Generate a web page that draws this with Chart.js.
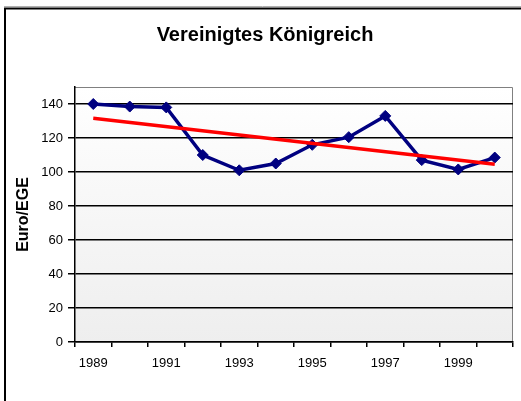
<!DOCTYPE html>
<html>
<head>
<meta charset="utf-8">
<script src="https://cdn.jsdelivr.net/npm/chart.js"></script>
<style>
  html, body { margin: 0; padding: 0; background: #fff; }
  #wrap { width: 521px; height: 401px; position: relative; }
</style>
</head>
<body>
<div id="wrap"><canvas id="chart" width="521" height="401"></canvas></div>
<script>
'use strict';

// Data
var years = ['1989', '1990', '1991', '1992', '1993', '1994', '1995', '1996', '1997', '1998', '1999', '2000'];
var euroPerEge = [140, 138.5, 138, 110, 101, 105, 116, 120.5, 133, 107, 101.5, 108.5];
// Linear trend line, end points
var trendValues = [131.6, null, null, null, null, null, null, null, null, null, null, 104.5];
var yTicks = [0, 20, 40, 60, 80, 100, 120, 140];

var FONT = '"Liberation Sans", Arial, sans-serif';

/**
 * Frame, plot background gradient and plot border.
 */
var decorPlugin = {
  id: 'decor',
  beforeDraw: function(chart) {
    var ctx = chart.ctx;
    var a = chart.chartArea;
    ctx.save();
    // outer frame (top + left visible)
    ctx.strokeStyle = '#b0b0b0';
    ctx.lineWidth = 1;
    ctx.beginPath();
    ctx.moveTo(4, 6.5);
    ctx.lineTo(521, 6.5);
    ctx.stroke();
    ctx.strokeStyle = '#000';
    ctx.lineWidth = 2;
    ctx.beginPath();
    ctx.moveTo(5, 401);
    ctx.lineTo(5, 8.5);
    ctx.lineTo(521, 8.5);
    ctx.stroke();
    // plot background
    var grad = ctx.createLinearGradient(0, a.top, 0, a.bottom);
    grad.addColorStop(0, '#ffffff');
    grad.addColorStop(1, '#eeeeee');
    ctx.fillStyle = grad;
    ctx.fillRect(a.left, a.top, a.right - a.left, a.bottom - a.top);
    // plot border (top + right)
    ctx.strokeStyle = '#808080';
    ctx.lineWidth = 1;
    ctx.beginPath();
    ctx.moveTo(a.left, a.top + 0.5);
    ctx.lineTo(a.right - 0.5, a.top + 0.5);
    ctx.lineTo(a.right - 0.5, a.bottom);
    ctx.stroke();
    ctx.restore();
  }
};

var ctx = document.getElementById('chart').getContext('2d');
new Chart(ctx, {
  type: 'line',
  data: {
    labels: years,
    datasets: [{
      label: 'Trend',
      data: trendValues,
      borderColor: '#ff0000',
      borderWidth: 3.5,
      pointRadius: 0,
      spanGaps: true,
      tension: 0,
      order: 0
    }, {
      label: 'Euro/EGE',
      data: euroPerEge,
      borderColor: '#000080',
      backgroundColor: '#000080',
      borderWidth: 3.5,
      pointStyle: 'rectRot',
      pointRadius: 5.5,
      pointBorderWidth: 1,
      tension: 0,
      order: 1
    }]
  },
  options: {
    responsive: false,
    animation: false,
    events: [],
    layout: {
      padding: { top: 23, left: 17, right: 8, bottom: 29 }
    },
    plugins: {
      legend: { display: false },
      tooltip: { enabled: false },
      title: {
        display: true,
        text: 'Vereinigtes Königreich',
        color: '#000',
        font: { family: FONT, size: 20, weight: 'bold' },
        padding: { top: 0, bottom: 40 }
      }
    },
    scales: {
      x: {
        type: 'category',
        offset: true,
        grid: {
          offset: true,
          drawOnChartArea: false,
          drawTicks: true,
          tickLength: 5,
          color: '#000',
          lineWidth: 1.5
        },
        border: { color: '#000', width: 1.5 },
        ticks: {
          autoSkip: false,
          maxRotation: 0,
          padding: 9,
          color: '#000',
          font: { family: FONT, size: 13 },
          callback: function(value, index) {
            return index % 2 === 0 ? years[index] : '';
          }
        },
        afterFit: function(scale) { scale.height = 30; }
      },
      y: {
        min: 0,
        max: 150,
        afterBuildTicks: function(scale) {
          scale.ticks = yTicks.map(function(v) { return { value: v }; });
        },
        grid: {
          color: '#000',
          lineWidth: 1.5,
          tickLength: 7
        },
        border: { color: '#000', width: 1.5 },
        ticks: {
          padding: 5,
          color: '#000',
          font: { family: FONT, size: 13 }
        },
        title: {
          display: true,
          text: 'Euro/EGE',
          color: '#000',
          font: { family: FONT, size: 16, weight: 'bold' },
          padding: { top: -3, bottom: 0 }
        },
        afterFit: function(scale) { scale.width = 58; }
      }
    }
  },
  plugins: [decorPlugin]
});
</script>
</body>
</html>
